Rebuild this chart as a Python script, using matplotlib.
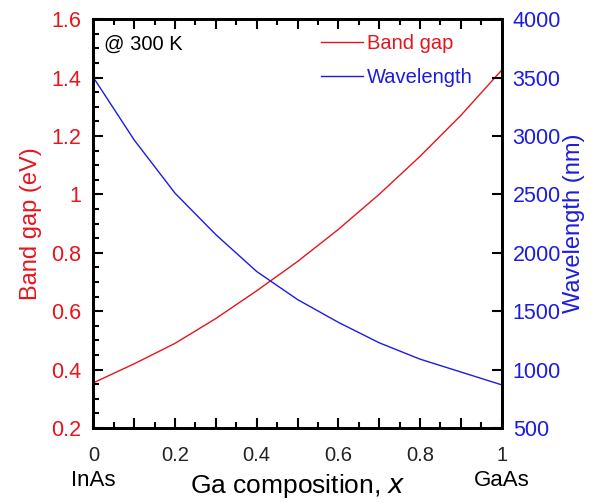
import matplotlib.pyplot as plt
from matplotlib.ticker import MultipleLocator

plt.rcParams['font.family'] = ['Liberation Sans', 'DejaVu Sans']

# Ga composition x in InGaAs
ga_x = [0.0, 0.1, 0.2, 0.3, 0.4, 0.5, 0.6, 0.7, 0.8, 0.9, 1.0]
band_gap = [0.355, 0.42, 0.49, 0.575, 0.67, 0.77, 0.88, 1.0, 1.13, 1.27, 1.425]
wavelength = [3500, 2965, 2510, 2155, 1840, 1600, 1405, 1230, 1090, 980, 870]

x_ticks = [0, 0.1, 0.2, 0.3, 0.4, 0.5, 0.6, 0.7, 0.8, 0.9, 1.0]
x_ticklabels = ['0', '', '0.2', '', '0.4', '', '0.6', '', '0.8', '', '1']
y_ticks = [0.2, 0.4, 0.6, 0.8, 1.0, 1.2, 1.4, 1.6]
y_ticklabels = ['0.2', '0.4', '0.6', '0.8', '1', '1.2', '1.4', '1.6']

red = '#e8141c'
blue = '#1c1ce0'

fig, ax = plt.subplots(figsize=(5.95, 5.03), dpi=100)
fig.subplots_adjust(left=0.157, right=0.843, top=0.962, bottom=0.149)
ax2 = ax.twinx()

l1, = ax.plot(ga_x, band_gap, color=red, lw=1.0, label='Band gap')
l2, = ax2.plot(ga_x, wavelength, color=blue, lw=1.0, label='Wavelength')

ax.set_xlim(0, 1)
ax.set_ylim(0.2, 1.6)
ax2.set_ylim(500, 4000)

ax.set_xticks(x_ticks)
ax.set_xticklabels(x_ticklabels)
ax.xaxis.set_minor_locator(MultipleLocator(0.05))
ax.set_yticks(y_ticks)
ax.set_yticklabels(y_ticklabels)
ax.yaxis.set_minor_locator(MultipleLocator(0.05))
ax2.yaxis.set_major_locator(MultipleLocator(500))

ax.tick_params(axis='both', which='major', direction='in', length=7, width=1.5,
               top=True, labelsize=15.5)
ax.tick_params(axis='both', which='minor', direction='in', length=4, width=1.5, top=True)
ax.tick_params(axis='y', which='both', color='black', labelcolor=red, pad=8.5)
ax.tick_params(axis='x', labelcolor='#222222', labelsize=14.5, pad=13)
ax2.tick_params(axis='y', which='major', direction='in', length=7, width=1.5,
                labelsize=15.5, labelcolor=blue, color='black', pad=8)

for sp in ax.spines.values():
    sp.set_linewidth(2)
for sp in ax2.spines.values():
    sp.set_linewidth(2)

ax.set_ylabel('Band gap (eV)', color=red, fontsize=17)
ax.yaxis.set_label_coords(-0.125, 0.5)
ax2.set_ylabel('Wavelength (nm)', color=blue, fontsize=17)
ax2.yaxis.set_label_coords(1.150, 0.5)
ax.set_xlabel('Ga composition, $\\it{x}$', fontsize=19)
ax.xaxis.set_label_coords(0.5, -0.108)

ax.text(0.0, -0.103, 'InAs', transform=ax.transAxes, ha='center', va='top', fontsize=16)
ax.text(1.0, -0.103, 'GaAs', transform=ax.transAxes, ha='center', va='top', fontsize=16)

ax.text(0.025, 0.962, '@ 300 K', transform=ax.transAxes, ha='left', va='top', fontsize=14.5)

leg = ax.legend(handles=[l1, l2], loc='upper right', bbox_to_anchor=(0.929, 0.963),
                frameon=False, fontsize=14.5, handlelength=2.1, handletextpad=0.2,
                borderaxespad=0, borderpad=0, labelspacing=0.75)
for txt, col in zip(leg.get_texts(), [red, blue]):
    txt.set_color(col)

fig.savefig('out.png', dpi=100)
